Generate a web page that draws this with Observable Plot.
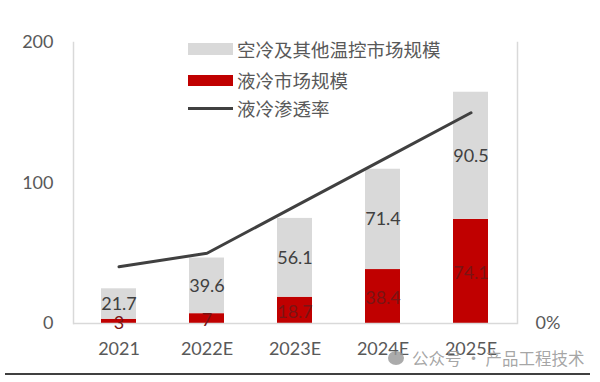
<!DOCTYPE html>
<html>
<head>
<meta charset="utf-8">
<script src="https://cdn.jsdelivr.net/npm/d3@7"></script>
<script src="https://cdn.jsdelivr.net/npm/@observablehq/plot@0.6"></script>
<style>
  html, body { margin: 0; padding: 0; background: #fff; }
  #wrap { position: relative; width: 600px; height: 382px; overflow: hidden; background: #fff; }
  .legend { position: absolute; left: 188px; top: 0; font-family: "Noto Sans CJK SC", sans-serif; font-size: 18.5px; color: #595959; }
  .row { position: absolute; left: 0; display: flex; align-items: center; white-space: nowrap; height: 24px; }
  .sw { width: 45px; margin-right: 4px; }
  .wm { position: absolute; left: 388px; top: 346px; font-family: "Noto Sans CJK SC", sans-serif; font-size: 16.5px; color: rgba(150,150,150,0.85); white-space: nowrap; display: flex; align-items: center; }
  .icon { width: 16px; height: 14px; border-radius: 50%; background: rgba(150,150,150,0.8); margin-right: 8px; }
  .bottomline { position: absolute; left: 5px; top: 373px; width: 585px; height: 2px; background: #404040; }
</style>
</head>
<body>
<div id="wrap"></div>
<script>
const years = ["2021", "2022E", "2023E", "2024E", "2025E"];
const liquidValues = [3, 7, 18.7, 38.4, 74.1];
const airValues = [21.7, 39.6, 56.1, 71.4, 90.5];
const penetrationRate = [12.1, 15.0, 25.0, 35.0, 45.0]; // %
const leftTicks = [0, 100, 200];
const rightTicks = [0];
const rightMax = 60; // % at top of right axis
const seriesNames = { air: "空冷及其他温控市场规模", liquid: "液冷市场规模", rate: "液冷渗透率" };

const rows = [];
years.forEach((y, i) => rows.push({ year: y, series: "liquid", value: liquidValues[i], mid: liquidValues[i] / 2 }));
years.forEach((y, i) => rows.push({ year: y, series: "air", value: airValues[i], mid: liquidValues[i] + airValues[i] / 2 }));
const rateRows = years.map((y, i) => ({ year: y, rate: penetrationRate[i], yv: penetrationRate[i] * 200 / rightMax }));

const chart = Plot.plot({
  width: 600,
  height: 382,
  marginLeft: 73,
  marginRight: 83,
  marginTop: 42,
  marginBottom: 59,
  x: { domain: years, paddingInner: 0.6, paddingOuter: 0.3, label: null },
  y: { domain: [0, 200], label: null },
  color: { domain: ["air", "liquid"], range: ["#d9d9d9", "#c00000"] },
  style: { fontFamily: "Lato, sans-serif", fontSize: "18px", color: "#595959", background: "white", overflow: "visible" },
  marks: [
    Plot.barY(rows, { x: "year", y: "value", fill: "series" }),
    Plot.frame({ anchor: "left", stroke: "#d9d9d9", strokeWidth: 1.5 }),
    Plot.frame({ anchor: "right", stroke: "#d9d9d9", strokeWidth: 1.5 }),
    Plot.ruleY([0], { stroke: "#d9d9d9", strokeWidth: 1.5 }),
    Plot.axisY({ ticks: leftTicks, tickSize: 0, tickPadding: 20, label: null }),
    Plot.axisY({ anchor: "right", ticks: rightTicks, tickSize: 0, tickPadding: 18, label: null, tickFormat: d => (d * rightMax / 200) + "%" }),
    Plot.axisX({ tickSize: 0, tickPadding: 19, label: null }),
    Plot.line(rateRows, { x: "year", y: "yv", stroke: "#404040", strokeWidth: 3 }),
    Plot.text(rows.filter(d => d.series === "air"), { x: "year", y: "mid", text: d => String(d.value), fill: "#404040", fontSize: 18 }),
    Plot.text(rows.filter(d => d.series === "liquid"), { x: "year", y: "mid", text: d => String(d.value), fill: "#7a1414", fontSize: 18, dy: 2 })
  ]
});

const wrap = document.getElementById("wrap");
wrap.appendChild(chart);

const legend = document.createElement("div");
legend.className = "legend";
legend.innerHTML = `
  <div class="row" style="top:37px"><div class="sw" style="height:12px;background:#d9d9d9"></div><span>${seriesNames.air}</span></div>
  <div class="row" style="top:68px"><div class="sw" style="height:11px;background:#c00000"></div><span>${seriesNames.liquid}</span></div>
  <div class="row" style="top:96px"><div class="sw" style="height:3px;background:#404040"></div><span>${seriesNames.rate}</span></div>`;
wrap.appendChild(legend);

const wm = document.createElement("div");
wm.className = "wm";
wm.innerHTML = `<div class="icon"></div><span>公众号 · 产品工程技术</span>`;
wrap.appendChild(wm);

const bl = document.createElement("div");
bl.className = "bottomline";
wrap.appendChild(bl);
</script>
</body>
</html>
